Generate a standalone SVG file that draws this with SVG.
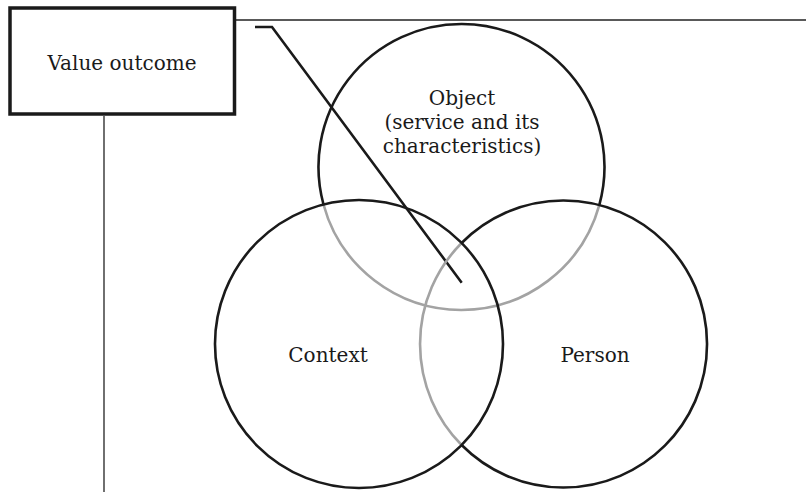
<svg xmlns="http://www.w3.org/2000/svg" width="806" height="492" viewBox="0 0 806 492">
<style>
.thin{stroke:#222;stroke-width:1.3;fill:none}
.blk{stroke:#1a1a1a;stroke-width:2.6;fill:none}
.gry{stroke:#a3a3a3;stroke-width:2.6;fill:none}
text{font-family:"DejaVu Serif","Liberation Serif",serif;font-size:20px;fill:#1a1a1a;text-anchor:middle}
</style>
<rect width="806" height="492" fill="#fff"/>
<g id="connectors">
<line class="thin" x1="234" y1="20" x2="806" y2="20"/>
<line class="thin" x1="104" y1="116" x2="104" y2="492" stroke="#555"/>
<polyline class="blk" points="255,27 272,27 461.7,282.7"/>
</g>
<g id="circle-object">
<path class="gry" d="M323.5,204.5 A143,143 0 0 0 599.3,205.1"/>
<path class="blk" d="M599.3,205.1 A143,143 0 1 0 323.5,204.5"/>
<text x="462" y="105">Object</text>
<text x="462" y="129">(service and its</text>
<text x="462" y="153">characteristics)</text>
</g>
<g id="circle-person">
<path class="gry" d="M461.6,243 A143.5,143.5 0 0 0 461.6,445"/>
<path class="blk" d="M461.6,445 A143.5,143.5 0 1 0 461.6,243"/>
<text x="595" y="362">Person</text>
</g>
<g id="circle-context">
<circle class="blk" cx="359" cy="344" r="144"/>
<text x="328" y="362">Context</text>
</g>
<g id="value-outcome">
<rect x="10" y="8" width="224.5" height="106" fill="#fff" stroke="#1a1a1a" stroke-width="3.5"/>
<text x="122" y="70">Value outcome</text>
</g>
</svg>
